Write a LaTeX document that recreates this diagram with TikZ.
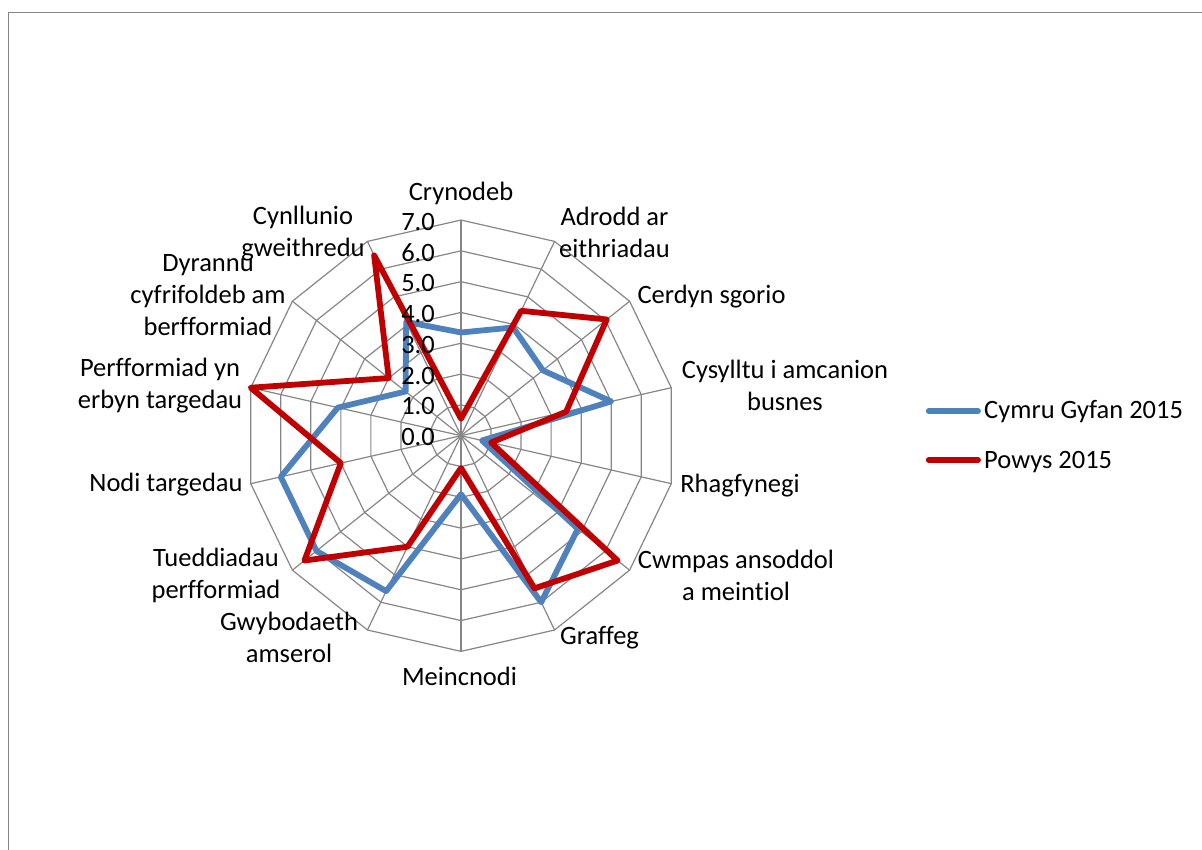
\documentclass[tikz,border=0pt]{standalone}
\usepackage{fontspec}
\setmainfont{Carlito}[Ligatures=NoCommon]
\definecolor{gridgray}{HTML}{868686}
\definecolor{serblue}{HTML}{4F81BD}
\definecolor{serred}{HTML}{C00000}
\begin{document}
\begin{tikzpicture}[x=1pt,y=-1pt,
  gridline/.style={draw=gridgray,line width=1.2pt},
  series/.style={line width=5.8pt,line join=round},
  lab/.style={font=\fontsize{26.5}{32}\selectfont,align=center,inner sep=0pt},
  tick/.style={font=\fontsize{26.5}{32}\selectfont,inner sep=0pt,anchor=east}]
\useasboundingbox (0,0) rectangle (1202,850);
\draw[draw=gridgray,line width=1.5pt] (8.5,851) -- (8.5,12.7) -- (1203,12.7);
\def\cx{461}\def\cy{435.7}\def\u{30.81}
% spokes
\foreach \i in {0,...,13}
  \draw[gridline] (\cx,\cy) -- ({\cx+7*\u*sin(\i*360/14)},{\cy-7*\u*cos(\i*360/14)});
% rings
\foreach \k in {1,...,7}
  \draw[gridline] (\cx,{\cy-\k*\u}) \foreach \i in {1,...,13}{ -- ({\cx+\k*\u*sin(\i*360/14)},{\cy-\k*\u*cos(\i*360/14)}) } -- cycle;
% data
\foreach \v [count=\i from 0] in {3.35,3.9,3.4,5.0,0.7,4.85,6.0,1.9,5.6,6.0,6.0,4.1,2.3,4.1}
  \coordinate (b\i) at ({\cx+\v*\u*sin(\i*360/14)},{\cy-\v*\u*cos(\i*360/14)});
\foreach \v [count=\i from 0] in {0.55,4.5,6.05,3.5,1.0,6.5,5.5,1.05,4.0,6.5,4.0,7.0,3.0,6.5}
  \coordinate (r\i) at ({\cx+\v*\u*sin(\i*360/14)},{\cy-\v*\u*cos(\i*360/14)});
\draw[series,serblue] (b0) -- (b1) -- (b2) -- (b3) -- (b4) -- (b5) -- (b6) -- (b7) -- (b8) -- (b9) -- (b10) -- (b11) -- (b12) -- (b13) -- cycle;
\draw[series,serred] (r0) -- (r1) -- (r2) -- (r3) -- (r4) -- (r5) -- (r6) -- (r7) -- (r8) -- (r9) -- (r10) -- (r11) -- (r12) -- (r13) -- cycle;
% tick labels
\foreach \k in {0,...,7}
  \node[tick] (t\k) at (435,{\cy-\k*\u+1.5}) {\k.0};
% category labels
\node[lab] (c0) at (461,193) {Crynodeb};
\node[lab] (c1) at (614.5,232.8) {Adrodd ar\\eithriadau};
\node[lab] (c2) at (711.5,296.3) {Cerdyn sgorio};
\node[lab] (c3) at (785,385.7) {Cysylltu i amcanion\\busnes};
\node[lab] (c4) at (740,485.8) {Rhagfynegi};
\node[lab] (c5) at (736,575) {Cwmpas ansoddol\\a meintiol};
\node[lab] (c6) at (599.5,638) {Graffeg};
\node[lab] (c7) at (459.5,676.5) {Meincnodi};
\node[lab] (c8) at (289,637.2) {Gwybodaeth\\amserol};
\node[lab] (c9) at (216,575.8) {Tueddiadau\\perfformiad};
\node[lab] (c10) at (166,485) {Nodi targedau};
\node[lab] (c11) at (160,385.8) {Perfformiad yn\\erbyn targedau};
\node[lab] (c12) at (208,295) {Dyrannu\\cyfrifoldeb am\\berfformiad};
\node[lab] (c13) at (303,234) {Cynllunio\\gweithredu};
% legend
\coordinate (lb1) at (928.7,411);
\coordinate (lb2) at (978,411);
\coordinate (lr1) at (928.7,460);
\coordinate (lr2) at (978,460);
\draw[series,serblue,line cap=round] (lb1) -- (lb2);
\draw[series,serred,line cap=round] (lr1) -- (lr2);
\node[lab,anchor=base west] (lbt) at (984,418.3) {Cymru Gyfan 2015};
\node[lab,anchor=base west] (lrt) at (984,468.3) {Powys 2015};
\end{tikzpicture}
\end{document}
